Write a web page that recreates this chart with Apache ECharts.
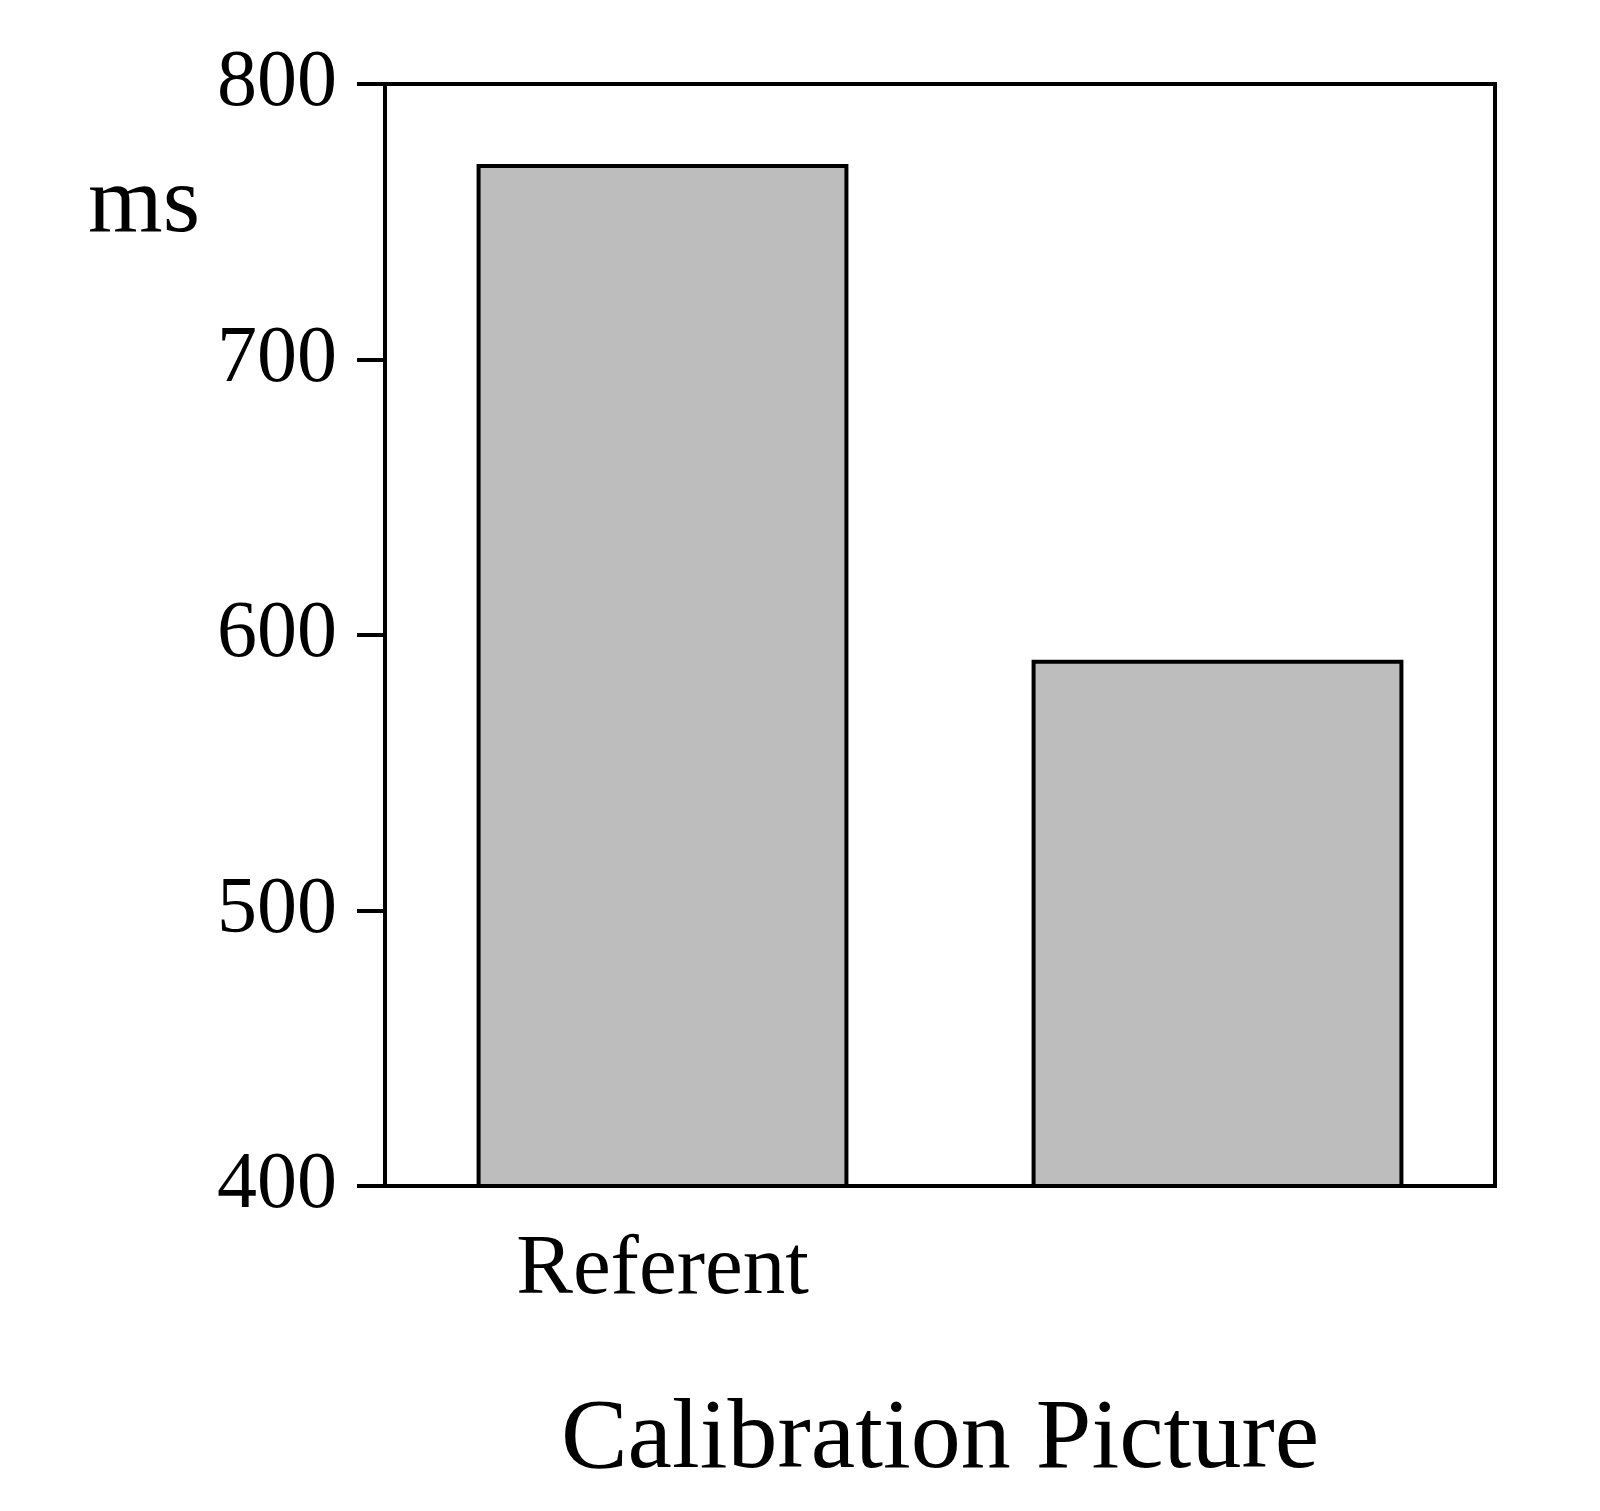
<!DOCTYPE html>
<html><head><meta charset="utf-8">
<script src="https://cdn.jsdelivr.net/npm/echarts@6/dist/echarts.min.js"></script>
<style>html,body{margin:0;padding:0;background:#fff}#c{width:1600px;height:1511px}</style>
</head><body><div id="c"></div>
<script>
const categories = ['Referent', 'Non Referent'];
const values = [771, 591];
const yTicks = [400, 500, 600, 700, 800];
const font = 'Liberation Serif, Times New Roman, serif';
const chart = echarts.init(document.getElementById('c'));
chart.setOption({
  animation: false,
  backgroundColor: '#fff',
  grid: {left: 385, right: 105, top: 84, bottom: 325, show: true, borderColor: '#000', borderWidth: 4, backgroundColor: 'transparent'},
  xAxis: {
    type: 'category', data: categories,
    name: 'Calibration Picture', nameLocation: 'middle', nameGap: 205,
    nameTextStyle: {fontFamily: font, fontSize: 100, color: '#000'},
    axisLine: {lineStyle: {color: '#000', width: 4}},
    axisTick: {alignWithLabel: true, length: 28, lineStyle: {color: '#000', width: 4}},
    axisLabel: {fontFamily: font, fontSize: 85, color: '#000', margin: 42}
  },
  yAxis: {
    type: 'value', min: 400, max: 800, interval: 100,
    axisLine: {show: true, lineStyle: {color: '#000', width: 4}},
    axisTick: {show: true, length: 28, lineStyle: {color: '#000', width: 4}},
    splitLine: {show: false},
    axisLabel: {fontFamily: font, fontSize: 80, color: '#000', margin: 48,
      formatter: v => yTicks.includes(v) ? String(v) : ''}
  },
  graphic: [{type: 'text', left: 88, top: 158, style: {text: 'ms', font: '96px ' + font, fill: '#000'}}],
  series: [{
    type: 'bar', data: values, barWidth: '67%',
    itemStyle: {color: '#bdbdbd', borderColor: '#000', borderWidth: 4}
  }]
});
</script></body></html>
